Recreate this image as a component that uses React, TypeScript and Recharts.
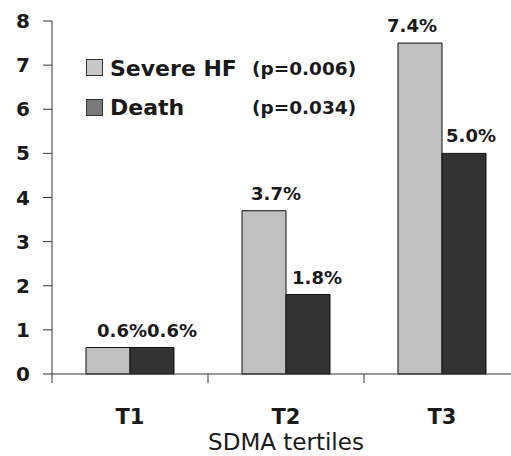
import React from "react";
import { BarChart, Bar, XAxis, YAxis, LabelList, Label } from "recharts";

const TERTILES = ["T1", "T2", "T3"];
const SEVERE_HF = [0.6, 3.7, 7.5];
const DEATH = [0.6, 1.8, 5.0];
const SEVERE_LABELS = ["0.6%", "3.7%", "7.4%"];
const DEATH_LABELS = ["0.6%", "1.8%", "5.0%"];
const Y_TICKS = [0, 1, 2, 3, 4, 5, 6, 7, 8];
const P_SEVERE = "(p=0.006)";
const P_DEATH = "(p=0.034)";

// label nudges seen in the source figure
const SEVERE_DX = [14, 12, -8];
const DEATH_DX = [20, 9, 7];

const FONT = "'DejaVu Sans', sans-serif";
const LIGHT = "#c0c0c0";
const DARK = "#333333";
const INK = "#1a1a1a";
const AXIS = "#333";
const TICK_MARGIN = 35;

const data = TERTILES.map((t, i) => ({
  name: t,
  severe: SEVERE_HF[i],
  death: DEATH[i],
  severeLabel: SEVERE_LABELS[i],
  deathLabel: DEATH_LABELS[i],
}));

function makeLabel(dxs: number[]) {
  return (props: any) => {
    const { x, y, width, value, index } = props;
    return (
      <text
        x={Number(x) + Number(width) / 2 + (dxs[index] ?? 0)}
        y={Number(y) - 11}
        textAnchor="middle"
        fontFamily={FONT}
        fontWeight="bold"
        fontSize={18}
        fill={INK}
      >
        {value}
      </text>
    );
  };
}

// category tick: label at the centre, tick marks on the band boundaries
function TertileTick(props: any) {
  const { x, y, payload, index } = props;
  const half = payload?.offset ?? 0;
  const axisY = y - TICK_MARGIN;
  const last = index === TERTILES.length - 1;
  return (
    <g>
      <line x1={x - half} x2={x - half} y1={axisY} y2={axisY + 9} stroke={AXIS} />
      {last && <line x1={x + half} x2={x + half} y1={axisY} y2={axisY + 9} stroke={AXIS} />}
      <text
        x={x}
        y={y}
        dy="0.71em"
        textAnchor="middle"
        fontFamily={FONT}
        fontWeight="bold"
        fontSize={21}
        fill={INK}
      >
        {payload.value}
      </text>
    </g>
  );
}

function LegendOverlay() {
  return (
    <svg
      width={511}
      height={140}
      style={{ position: "absolute", left: 0, top: 0, pointerEvents: "none" }}
    >
      <rect x={86.5} y={59.5} width={16} height={16} fill="#c8c8c8" stroke="#333" />
      <rect x={86.5} y={99.5} width={16} height={16} fill="#7a7a7a" stroke="#333" />
      <g fontFamily={FONT} fontWeight="bold" fill={INK}>
        <text x={110} y={76} fontSize={22}>Severe HF</text>
        <text x={110} y={115} fontSize={22}>Death</text>
        <text x={252} y={75} fontSize={18.5}>{P_SEVERE}</text>
        <text x={252} y={114} fontSize={18.5}>{P_DEATH}</text>
      </g>
    </svg>
  );
}

export default function App() {
  return (
    <div
      style={{
        position: "absolute",
        left: 0,
        top: 0,
        width: 511,
        height: 456,
        overflow: "hidden",
        background: "#fff",
      }}
    >
      <BarChart
        width={530}
        height={456}
        data={data}
        margin={{ top: 21, right: 10, left: 0, bottom: 0 }}
        barCategoryGap={34}
        barGap={0}
      >
        <XAxis
          dataKey="name"
          height={82}
          axisLine={{ stroke: AXIS }}
          tickLine={false}
          tickSize={0}
          tickMargin={TICK_MARGIN}
          tick={<TertileTick />}
        >
          <Label
            value="SDMA tertiles"
            position="insideBottom"
            offset={6}
            style={{ fontFamily: FONT, fontSize: 23, fill: INK }}
          />
        </XAxis>
        <YAxis
          domain={[0, 8]}
          ticks={Y_TICKS}
          width={52}
          tickSize={9}
          tickMargin={13}
          axisLine={{ stroke: AXIS }}
          tickLine={{ stroke: AXIS }}
          tick={{ fontFamily: FONT, fontWeight: "bold", fontSize: 20, fill: INK }}
        />
        <Bar dataKey="severe" fill={LIGHT} stroke="#111" strokeWidth={1} isAnimationActive={false}>
          <LabelList dataKey="severeLabel" content={makeLabel(SEVERE_DX)} />
        </Bar>
        <Bar dataKey="death" fill={DARK} stroke="#111" strokeWidth={1} isAnimationActive={false}>
          <LabelList dataKey="deathLabel" content={makeLabel(DEATH_DX)} />
        </Bar>
      </BarChart>
      <LegendOverlay />
    </div>
  );
}
